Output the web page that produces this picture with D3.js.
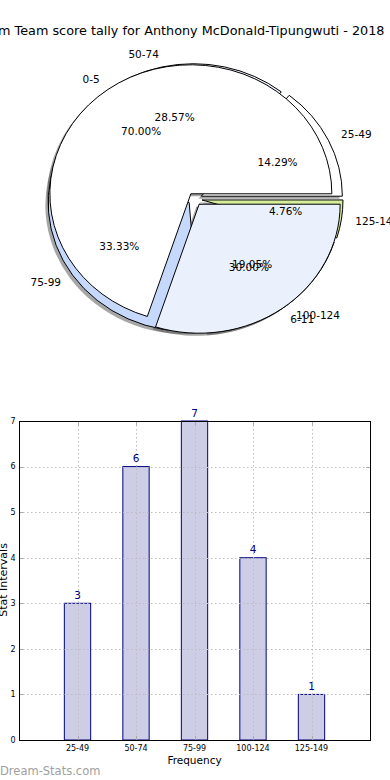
<!DOCTYPE html>
<html><head><meta charset="utf-8">
<script src="https://cdn.jsdelivr.net/npm/d3@7"></script>
<style>
html,body{margin:0;padding:0;background:#fff;}
svg{display:block;font-family:"DejaVu Sans",sans-serif;}
</style></head>
<body>
<svg id="c" width="390" height="780"></svg>
<script>
// ---- data ----
const titleText = "m Team score tally for Anthony McDonald-Tipungwuti - 2018";
const pieALabels = ["0-5", "6-11"];
const pieAValues = [7, 3];
const pieBLabels = ["25-49", "50-74", "75-99", "100-124", "125-149"];
const pieBValues = [3, 6, 7, 4, 1];
const barCategories = ["25-49", "50-74", "75-99", "100-124", "125-149"];
const barValues = [3, 6, 7, 4, 1];
const yTicks = [0, 1, 2, 3, 4, 5, 6, 7];
const palette = ["#ffffff", "#ebf1fc", "#c6d9fc", "#eaf0fb", "#d6ee9c"];

const svg = d3.select("#c");

// title
svg.append("text").attr("x", -2).attr("y", 35)
  .attr("font-size", 12.8).attr("fill", "#000").text(titleText);

// ---- pies ----
const cx = 195, cy = 199, rx = 141, ry = 129, explode = 0.05;
const arcGen = d3.arc().innerRadius(0).outerRadius(1);
const pieGen = d3.pie().sort(null).startAngle(Math.PI / 2).endAngle(Math.PI / 2 - 2 * Math.PI);

function layout(values, labels) {
  const total = d3.sum(values);
  return pieGen(values).map((d, i) => {
    const mid = (d.startAngle + d.endAngle) / 2;
    const ox = cx + explode * rx * Math.sin(mid);
    const oy = cy - explode * ry * Math.cos(mid);
    return {d, i, mid, ox, oy, label: labels[i], pct: (100 * values[i] / total).toFixed(2) + "%"};
  });
}
const pieB = layout(pieBValues, pieBLabels);
const pieA = layout(pieAValues, pieALabels);
const all = pieB.concat(pieA);

const gShadow = svg.append("g");
all.forEach(s => {
  gShadow.append("path")
    .attr("transform", `translate(${s.ox - 0.02 * rx},${s.oy + 0.02 * ry}) scale(${rx},${ry})`)
    .attr("d", arcGen(s.d))
    .attr("fill", "#4d4d4d").attr("fill-opacity", 0.5);
});
const gW = svg.append("g");
all.forEach(s => {
  gW.append("path")
    .attr("transform", `translate(${s.ox},${s.oy}) scale(${rx},${ry})`)
    .attr("d", arcGen(s.d))
    .attr("fill", palette[s.i])
    .attr("stroke", "#000").attr("stroke-width", 1)
    .attr("vector-effect", "non-scaling-stroke")
    .attr("stroke-linejoin", "miter");
});
const gT = svg.append("g").attr("font-size", 10.5).attr("fill", "#000");
all.forEach(s => {
  const sx = Math.sin(s.mid), sy = -Math.cos(s.mid);
  gT.append("text")
    .attr("x", s.ox + 1.1 * rx * sx).attr("y", s.oy + 1.1 * ry * sy)
    .attr("dy", "0.35em")
    .attr("text-anchor", sx > 0 ? "start" : "end")
    .text(s.label);
  gT.append("text")
    .attr("x", s.ox + 0.6 * rx * sx).attr("y", s.oy + 0.6 * ry * sy)
    .attr("dy", "0.35em")
    .attr("text-anchor", "middle")
    .text(s.pct);
});

// ---- bar chart ----
const L = 19, R = 370, T = 421, B = 740;
const x = d3.scaleLinear().domain([0, barCategories.length + 1]).range([L, R]);
const y = d3.scaleLinear().domain([0, 7]).range([B, T]);
const bw = (x(1) - x(0)) * 0.45;
const gB = svg.append("g");

gB.selectAll("rect.bar").data(barValues).join("rect")
  .attr("x", (d, i) => x(i + 1) - bw / 2)
  .attr("y", d => y(d))
  .attr("width", bw)
  .attr("height", d => B - y(d))
  .attr("fill", "#cdcde6").attr("stroke", "#000080").attr("stroke-width", 1);

// grid
const gridStyle = g => g.attr("stroke", "#bdbdbd").attr("stroke-width", 1).attr("stroke-dasharray", "1.5,2.5");
gB.append("g").call(gridStyle).selectAll("line").data(yTicks).join("line")
  .attr("x1", L).attr("x2", R).attr("y1", d => Math.round(y(d)) + 0.5).attr("y2", d => Math.round(y(d)) + 0.5);
gB.append("g").call(gridStyle).selectAll("line").data(barCategories).join("line")
  .attr("y1", T).attr("y2", B).attr("x1", (d, i) => Math.round(x(i + 1)) + 0.5).attr("x2", (d, i) => Math.round(x(i + 1)) + 0.5);

// inner ticks
const tk = gB.append("g").attr("stroke", "#a8a8a8").attr("stroke-width", 1);
yTicks.forEach(t => {
  const yy = Math.round(y(t)) + 0.5;
  tk.append("line").attr("x1", L).attr("x2", L + 4).attr("y1", yy).attr("y2", yy);
  tk.append("line").attr("x1", R - 4).attr("x2", R).attr("y1", yy).attr("y2", yy);
});
barCategories.forEach((c, i) => {
  const xx = Math.round(x(i + 1)) + 0.5;
  tk.append("line").attr("x1", xx).attr("x2", xx).attr("y1", B).attr("y2", B - 4);
  tk.append("line").attr("x1", xx).attr("x2", xx).attr("y1", T).attr("y2", T + 4);
});

// frame
gB.append("rect").attr("x", L + 0.5).attr("y", T + 0.5).attr("width", R - L).attr("height", B - T)
  .attr("fill", "none").attr("stroke", "#000").attr("stroke-width", 1);

// value labels
gB.selectAll("text.val").data(barValues).join("text")
  .attr("x", (d, i) => x(i + 1)).attr("y", d => y(d) - 4.5)
  .attr("text-anchor", "middle").attr("font-size", 10.5).attr("fill", "#00008b")
  .text(d => d);

// y tick labels
gB.selectAll("text.yt").data(yTicks).join("text")
  .attr("x", 15.5).attr("y", d => y(d)).attr("dy", "0.35em")
  .attr("text-anchor", "end").attr("font-size", 8).attr("fill", "#000").text(d => d);

// x tick labels
gB.selectAll("text.xt").data(barCategories).join("text")
  .attr("x", (d, i) => x(i + 1)).attr("y", 751)
  .attr("text-anchor", "middle").attr("font-size", 8).attr("fill", "#000").text(d => d);

svg.append("text").attr("x", (L + R) / 2).attr("y", 764).attr("text-anchor", "middle")
  .attr("font-size", 10.5).attr("fill", "#000").text("Frequency");
svg.append("text").attr("transform", "translate(7,580) rotate(-90)").attr("text-anchor", "middle")
  .attr("font-size", 11).attr("fill", "#000").text("Stat Intervals");
svg.append("text").attr("x", 0).attr("y", 775).attr("font-size", 11.5).attr("fill", "#a0a0a0")
  .text("Dream-Stats.com");
</script>
</body></html>
